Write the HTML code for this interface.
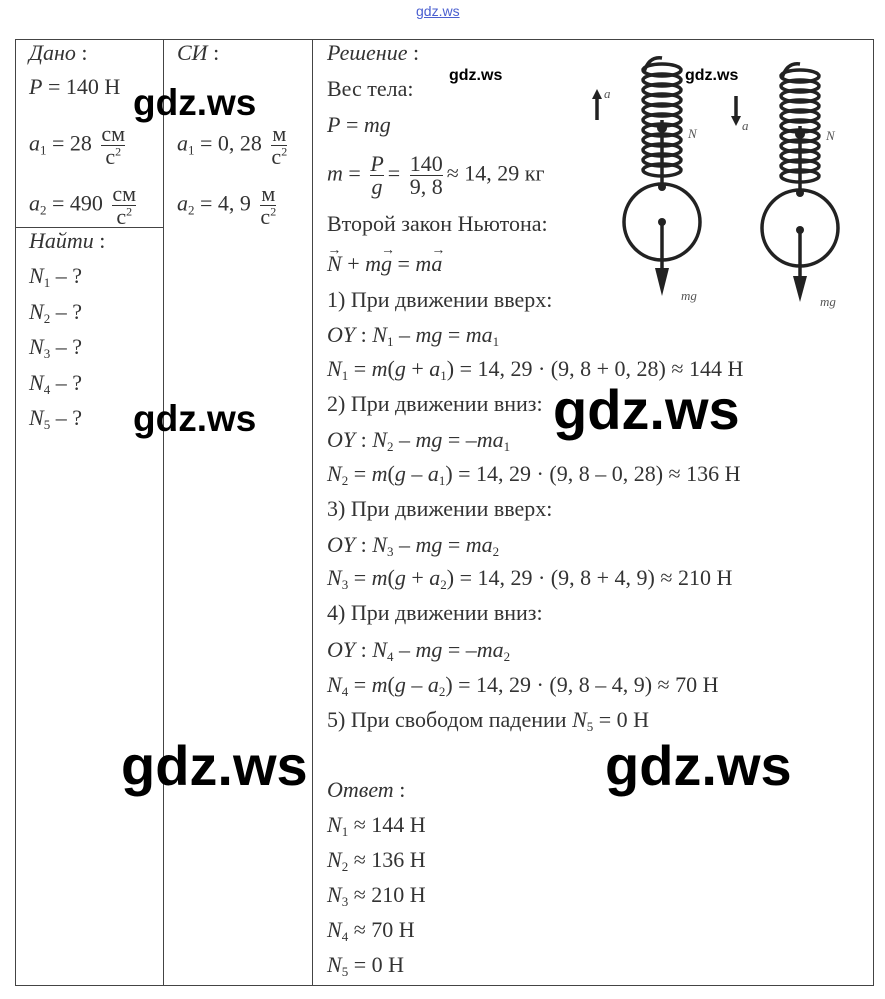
<!DOCTYPE html>
<html><head><meta charset="utf-8"><style>
body{margin:0;width:885px;height:999px;background:#fff;position:relative;overflow:hidden;font-family:"Liberation Serif",serif;color:#333;}
.t{position:absolute;font-size:22px;line-height:24px;white-space:nowrap;}
i{font-style:italic}
sub{font-size:13px;vertical-align:-4px;line-height:0}
sup{font-size:12px;line-height:0}
.fr{display:inline-block;vertical-align:middle;text-align:center;line-height:22px;margin:0 4px}
.fr span{display:block}
.fr .n{border-bottom:1px solid #333}
.v{position:relative;display:inline-block;font-style:italic}
.v::before{content:"→";position:absolute;left:0;right:0;top:-13px;text-align:center;font-size:14px;font-style:normal}
.w{position:absolute;font-family:"Liberation Sans",sans-serif;font-weight:bold;color:#000;white-space:nowrap;line-height:1}
.ln{position:absolute;background:#444}
</style></head><body>
<div class="w" style="left:416px;top:4px;font-size:14px;color:#4a5fd0;font-weight:normal;text-decoration:underline">gdz.ws</div>
<div class="ln" style="left:15px;top:39px;width:858px;height:1px"></div>
<div class="ln" style="left:15px;top:985px;width:858px;height:1px"></div>
<div class="ln" style="left:15px;top:39px;width:1px;height:947px"></div>
<div class="ln" style="left:873px;top:39px;width:1px;height:947px"></div>
<div class="ln" style="left:163px;top:39px;width:1px;height:947px"></div>
<div class="ln" style="left:312px;top:39px;width:1px;height:947px"></div>
<div class="ln" style="left:15px;top:227px;width:148px;height:1px"></div>

<div class="t" style="left:29px;top:41px"><i>Дано</i> :</div>
<div class="t" style="left:29px;top:75px"><i>P</i> = 140 Н</div>
<div class="t" style="left:29px;top:123px"><i>a</i><sub>1</sub> = 28 <span class="fr"><span class="n">см</span><span>с<sup>2</sup></span></span></div>
<div class="t" style="left:29px;top:183px"><i>a</i><sub>2</sub> = 490 <span class="fr"><span class="n">см</span><span>с<sup>2</sup></span></span></div>
<div class="t" style="left:29px;top:229px"><i>Найти</i> :</div>
<div class="t" style="left:29px;top:264px"><i>N</i><sub>1</sub> – ?</div>
<div class="t" style="left:29px;top:300px"><i>N</i><sub>2</sub> – ?</div>
<div class="t" style="left:29px;top:335px"><i>N</i><sub>3</sub> – ?</div>
<div class="t" style="left:29px;top:371px"><i>N</i><sub>4</sub> – ?</div>
<div class="t" style="left:29px;top:406px"><i>N</i><sub>5</sub> – ?</div>

<div class="t" style="left:177px;top:41px"><i>СИ</i> :</div>
<div class="t" style="left:177px;top:123px"><i>a</i><sub>1</sub> = 0, 28 <span class="fr"><span class="n">м</span><span>с<sup>2</sup></span></span></div>
<div class="t" style="left:177px;top:183px"><i>a</i><sub>2</sub> = 4, 9 <span class="fr"><span class="n">м</span><span>с<sup>2</sup></span></span></div>

<div class="t" style="left:327px;top:41px"><i>Решение</i> :</div>
<div class="t" style="left:327px;top:77px">Вес тела:</div>
<div class="t" style="left:327px;top:113px"><i>P</i> = <i>mg</i></div>
<div class="t" style="left:327px;top:153px"><i>m</i> = <span class="fr"><span class="n"><i>P</i></span><span><i>g</i></span></span>= <span class="fr"><span class="n">140</span><span>9, 8</span></span>≈ 14, 29 кг</div>
<div class="t" style="left:327px;top:212px">Второй закон Ньютона:</div>
<div class="t" style="left:327px;top:252px"><span class="v">N</span> + <i>m</i><span class="v">g</span> = <i>m</i><span class="v">a</span></div>
<div class="t" style="left:327px;top:288px">1) При движении вверх:</div>
<div class="t" style="left:327px;top:323px"><i>OY</i> : <i>N</i><sub>1</sub> – <i>mg</i> = <i>ma</i><sub>1</sub></div>
<div class="t" style="left:327px;top:357px"><i>N</i><sub>1</sub> = <i>m</i>(<i>g</i> + <i>a</i><sub>1</sub>) = 14, 29 · (9, 8 + 0, 28) ≈ 144 Н</div>
<div class="t" style="left:327px;top:392px">2) При движении вниз:</div>
<div class="t" style="left:327px;top:428px"><i>OY</i> : <i>N</i><sub>2</sub> – <i>mg</i> = –<i>ma</i><sub>1</sub></div>
<div class="t" style="left:327px;top:462px"><i>N</i><sub>2</sub> = <i>m</i>(<i>g</i> – <i>a</i><sub>1</sub>) = 14, 29 · (9, 8 – 0, 28) ≈ 136 Н</div>
<div class="t" style="left:327px;top:497px">3) При движении вверх:</div>
<div class="t" style="left:327px;top:533px"><i>OY</i> : <i>N</i><sub>3</sub> – <i>mg</i> = <i>ma</i><sub>2</sub></div>
<div class="t" style="left:327px;top:566px"><i>N</i><sub>3</sub> = <i>m</i>(<i>g</i> + <i>a</i><sub>2</sub>) = 14, 29 · (9, 8 + 4, 9) ≈ 210 Н</div>
<div class="t" style="left:327px;top:601px">4) При движении вниз:</div>
<div class="t" style="left:327px;top:638px"><i>OY</i> : <i>N</i><sub>4</sub> – <i>mg</i> = –<i>ma</i><sub>2</sub></div>
<div class="t" style="left:327px;top:673px"><i>N</i><sub>4</sub> = <i>m</i>(<i>g</i> – <i>a</i><sub>2</sub>) = 14, 29 · (9, 8 – 4, 9) ≈ 70 Н</div>
<div class="t" style="left:327px;top:708px">5) При свободом падении <i>N</i><sub>5</sub> = 0 Н</div>
<div class="t" style="left:327px;top:778px"><i>Ответ</i> :</div>
<div class="t" style="left:327px;top:813px"><i>N</i><sub>1</sub> ≈ 144 Н</div>
<div class="t" style="left:327px;top:848px"><i>N</i><sub>2</sub> ≈ 136 Н</div>
<div class="t" style="left:327px;top:883px"><i>N</i><sub>3</sub> ≈ 210 Н</div>
<div class="t" style="left:327px;top:918px"><i>N</i><sub>4</sub> ≈ 70 Н</div>
<div class="t" style="left:327px;top:953px"><i>N</i><sub>5</sub> = 0 Н</div>

<svg style="position:absolute;left:580px;top:40px" width="290" height="280" viewBox="0 0 290 280">
<g fill="none" stroke="#222" stroke-width="3.5">
<path d="M64 32 q5 -16 18 -14"/>
<g id="sp1">
<ellipse cx="82" cy="30" rx="19" ry="6"/><ellipse cx="82" cy="40" rx="19" ry="6"/><ellipse cx="82" cy="50" rx="19" ry="6"/><ellipse cx="82" cy="60" rx="19" ry="6"/><ellipse cx="82" cy="70" rx="19" ry="6"/><ellipse cx="82" cy="80" rx="19" ry="6"/><ellipse cx="82" cy="90" rx="19" ry="6"/><ellipse cx="82" cy="100" rx="19" ry="6"/><ellipse cx="82" cy="110" rx="19" ry="6"/><ellipse cx="82" cy="120" rx="19" ry="6"/><ellipse cx="82" cy="130" rx="19" ry="6"/>
</g>
<line x1="82" y1="80" x2="82" y2="148"/>
<circle cx="82" cy="182" r="38"/>
<line x1="82" y1="182" x2="82" y2="230"/>
<use href="#sp1" x="138" y="6"/>
<path d="M202 38 q5 -16 18 -14"/>
<line x1="220" y1="86" x2="220" y2="152"/>
<circle cx="220" cy="188" r="38"/>
<line x1="220" y1="190" x2="220" y2="236"/>
<line x1="17" y1="80" x2="17" y2="56"/>
<line x1="156" y1="56" x2="156" y2="78"/>
</g>
<g fill="#222">
<circle cx="82" cy="182" r="4"/><circle cx="220" cy="190" r="4"/>
<circle cx="82" cy="88" r="5"/><circle cx="220" cy="94" r="5"/>
<circle cx="82" cy="147" r="4"/><circle cx="220" cy="153" r="4"/>
<polygon points="75,228 89,228 82,256"/><polygon points="213,236 227,236 220,262"/>
<polygon points="12,59 22,59 17,49"/><polygon points="151,76 161,76 156,86"/>
</g>
<g font-family="Liberation Serif" font-style="italic" font-size="13" fill="#555">
<text x="24" y="58">a</text><text x="162" y="90">a</text>
<text x="108" y="98">N</text><text x="246" y="100">N</text>
<text x="101" y="260">mg</text><text x="240" y="266">mg</text>
</g>
</svg>

<div class="w" style="left:133px;top:84px;font-size:37px">gdz.ws</div>
<div class="w" style="left:133px;top:400px;font-size:37px">gdz.ws</div>
<div class="w" style="left:449px;top:68px;font-size:16px">gdz.ws</div>
<div class="w" style="left:685px;top:68px;font-size:16px">gdz.ws</div>
<div class="w" style="left:553px;top:382px;font-size:56px">gdz.ws</div>
<div class="w" style="left:121px;top:738px;font-size:56px">gdz.ws</div>
<div class="w" style="left:605px;top:738px;font-size:56px">gdz.ws</div>
</body></html>
